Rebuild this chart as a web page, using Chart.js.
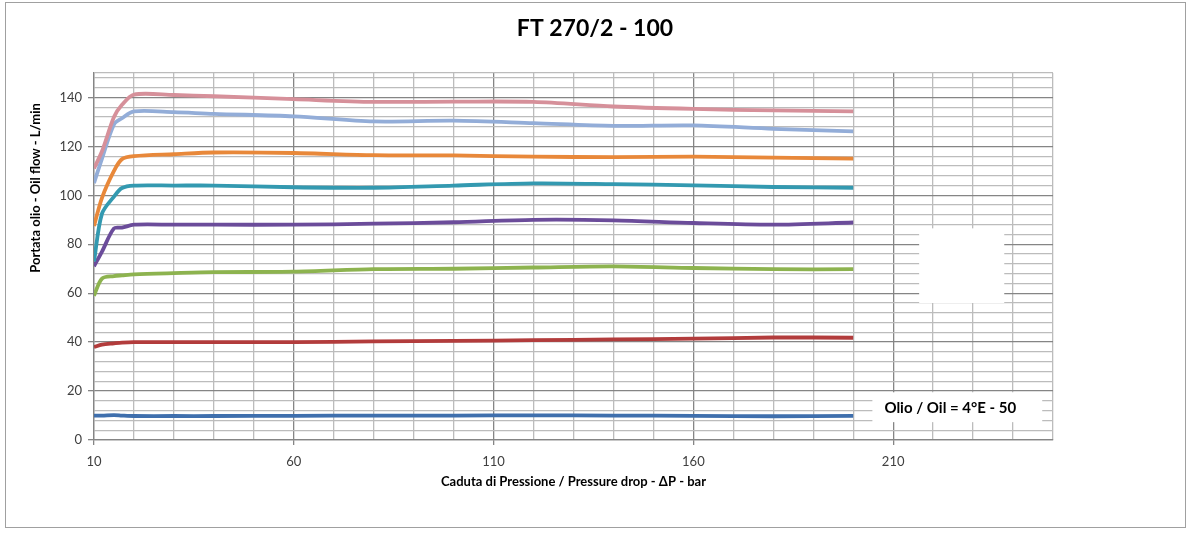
<!DOCTYPE html>
<html>
<head>
<meta charset="utf-8">
<title>FT 270/2 - 100</title>
<script src="https://cdn.jsdelivr.net/npm/chart.js@4.4.1/dist/chart.umd.min.js"></script>
<style>
    html, body { margin: 0; padding: 0; background: #ffffff; }
    #wrap { position: relative; width: 1192px; height: 533px; }
</style>
</head>
<body>
<div id="wrap"><canvas id="flow-chart" width="1192" height="533"></canvas></div>
<script>
// Pressure drop (bar) at which flow was sampled
const pressure = [10, 12, 15, 17, 20, 30, 40, 60, 80, 100, 120, 140, 160, 180, 200];

// Oil flow curves (L/min), top to bottom
const flowPink      = [111, 118, 132, 137, 141.2, 141, 140.5, 139.3, 138.2, 138.3, 138.2, 136.3, 135.3, 134.7, 134.3];
const flowLightBlue = [105, 115, 129, 131.5, 134.3, 134, 133.3, 132.3, 130.2, 130.5, 129.5, 128.4, 128.6, 127.2, 126.1];
const flowOrange    = [87.5, 99, 110, 114.8, 116, 116.8, 117.5, 117.3, 116.4, 116.3, 115.8, 115.6, 115.8, 115.4, 115];
const flowTeal      = [73, 92.5, 99.5, 103, 104, 104, 104, 103.3, 103.1, 104, 104.9, 104.6, 104.1, 103.4, 103.1];
const flowPurple    = [71, 77, 86.5, 86.8, 88, 88, 88, 88, 88.4, 89, 90, 89.8, 88.7, 88, 88.9];
const flowGreen     = [59, 66, 67, 67.3, 67.7, 68.2, 68.6, 68.8, 69.8, 70, 70.5, 71, 70.3, 69.8, 69.8];
const flowRed       = [38, 39, 39.5, 39.8, 40, 40, 40, 40, 40.3, 40.5, 40.8, 41.1, 41.4, 41.9, 41.8];
const flowBlue      = [10, 10, 10.2, 10, 9.8, 9.8, 9.8, 9.9, 10, 10, 10.1, 10, 9.9, 9.7, 9.9];

// Axis labels
const xTickLabels = [10, 60, 110, 160, 210];
const yTickLabels = [0, 20, 40, 60, 80, 100, 120, 140];

const chartTitle = 'FT 270/2 - 100';
const xTitle = 'Caduta di Pressione / Pressure drop - \u0394P - bar';
const yTitle = 'Portata olio - Oil flow - L/min';
const oilNote = 'Olio / Oil = 4\u00b0E - 50';

const FONT = "Lato, 'Open Sans', sans-serif";
const MAJOR_GRID = '#858585';
const MINOR_GRID = '#bcbcbc';

const series = [
    { data: flowPink, color: '#d6909a' },
    { data: flowLightBlue, color: '#93add8' },
    { data: flowOrange, color: '#e8883a' },
    { data: flowTeal, color: '#3399b0' },
    { data: flowPurple, color: '#6b4c9a' },
    { data: flowGreen, color: '#8db34f' },
    { data: flowRed, color: '#b23c3c' },
    { data: flowBlue, color: '#3f6fad' }
];

const datasets = series.map(s => ({
    data: s.data.map((v, i) => ({ x: pressure[i], y: v })),
    borderColor: s.color,
    backgroundColor: 'transparent',
    borderWidth: 3.8,
    pointRadius: 0,
    tension: 0.3,
    fill: false
}));

function gridSteps(min, max, step) {
    const out = [];
    for (let v = min; v <= max + 1e-9; v += step) out.push({ value: v });
    return out;
}

const decorPlugin = {
    id: 'decor',
    beforeDatasetsDraw(chart) {
        const { ctx, scales } = chart;
        const x = scales.x, y = scales.y;
        ctx.save();
        // blank legend area
        ctx.fillStyle = '#ffffff';
        const lx1 = x.getPixelForValue(216.5), lx2 = x.getPixelForValue(237.8);
        const ly1 = y.getPixelForValue(86.5), ly2 = y.getPixelForValue(56);
        ctx.fillRect(lx1, ly1, lx2 - lx1, ly2 - ly1);
        // oil note box
        const bx1 = x.getPixelForValue(204.8), bx2 = x.getPixelForValue(247.3);
        const by1 = y.getPixelForValue(19.5), by2 = y.getPixelForValue(7.3);
        ctx.fillRect(bx1, by1, bx2 - bx1, by2 - by1);
        ctx.fillStyle = '#000000';
        ctx.font = 'bold 15px ' + FONT;
        ctx.textAlign = 'left';
        ctx.textBaseline = 'middle';
        ctx.fillText(oilNote, bx1 + 12, (by1 + by2) / 2 + 1);
        ctx.restore();
    },
    afterDraw(chart) {
        const { ctx, chartArea } = chart;
        ctx.save();
        // outer frame
        ctx.strokeStyle = '#a0a0a0';
        ctx.lineWidth = 1;
        ctx.strokeRect(5.5, 2.5, 1180, 525);
        // title
        ctx.fillStyle = '#000000';
        ctx.font = 'bold 23px ' + FONT;
        ctx.textAlign = 'center';
        ctx.textBaseline = 'middle';
        ctx.fillText(chartTitle, 595, 29);
        // x title
        ctx.font = 'bold 13px ' + FONT;
        ctx.fillText(xTitle, (chartArea.left + chartArea.right) / 2, 482);
        // y title
        ctx.translate(36, 188);
        ctx.rotate(-Math.PI / 2);
        ctx.fillText(yTitle, 0, 0);
        ctx.restore();
    }
};

new Chart(document.getElementById('flow-chart').getContext('2d'), {
    type: 'line',
    data: { datasets },
    plugins: [decorPlugin],
    options: {
        responsive: false,
        animation: false,
        layout: { padding: { left: 34, right: 139, top: 73, bottom: 63 } },
        plugins: {
            legend: { display: false },
            title: { display: false },
            tooltip: { enabled: false }
        },
        scales: {
            x: {
                type: 'linear',
                min: 10,
                max: 250,
                afterBuildTicks: axis => { axis.ticks = gridSteps(10, 250, 10); },
                afterFit: axis => { axis.height = 30; },
                grid: {
                    color: c => xTickLabels.includes(c.tick && c.tick.value) ? MAJOR_GRID : MINOR_GRID,
                    tickColor: c => xTickLabels.includes(c.tick && c.tick.value) ? MAJOR_GRID : 'transparent',
                    lineWidth: 1.3,
                    tickLength: 5
                },
                border: { color: MAJOR_GRID, width: 1.3 },
                ticks: {
                    autoSkip: false,
                    maxRotation: 0,
                    padding: 9,
                    color: '#404040',
                    font: { family: FONT, size: 13 },
                    callback: v => xTickLabels.includes(v) ? String(v) : ''
                }
            },
            y: {
                type: 'linear',
                min: 0,
                max: 150,
                afterBuildTicks: axis => { axis.ticks = gridSteps(0, 148, 4).concat([{ value: 150 }]); },
                afterFit: axis => { axis.width = 60; },
                grid: {
                    color: c => yTickLabels.includes(c.tick && c.tick.value) ? MAJOR_GRID : MINOR_GRID,
                    tickColor: c => yTickLabels.includes(c.tick && c.tick.value) ? MAJOR_GRID : 'transparent',
                    lineWidth: 1.3,
                    tickLength: 6
                },
                border: { color: MAJOR_GRID, width: 1.3 },
                ticks: {
                    autoSkip: false,
                    padding: 6,
                    color: '#404040',
                    font: { family: FONT, size: 13 },
                    callback: v => yTickLabels.includes(v) ? String(v) : ''
                }
            }
        }
    }
});
</script>
</body>
</html>
